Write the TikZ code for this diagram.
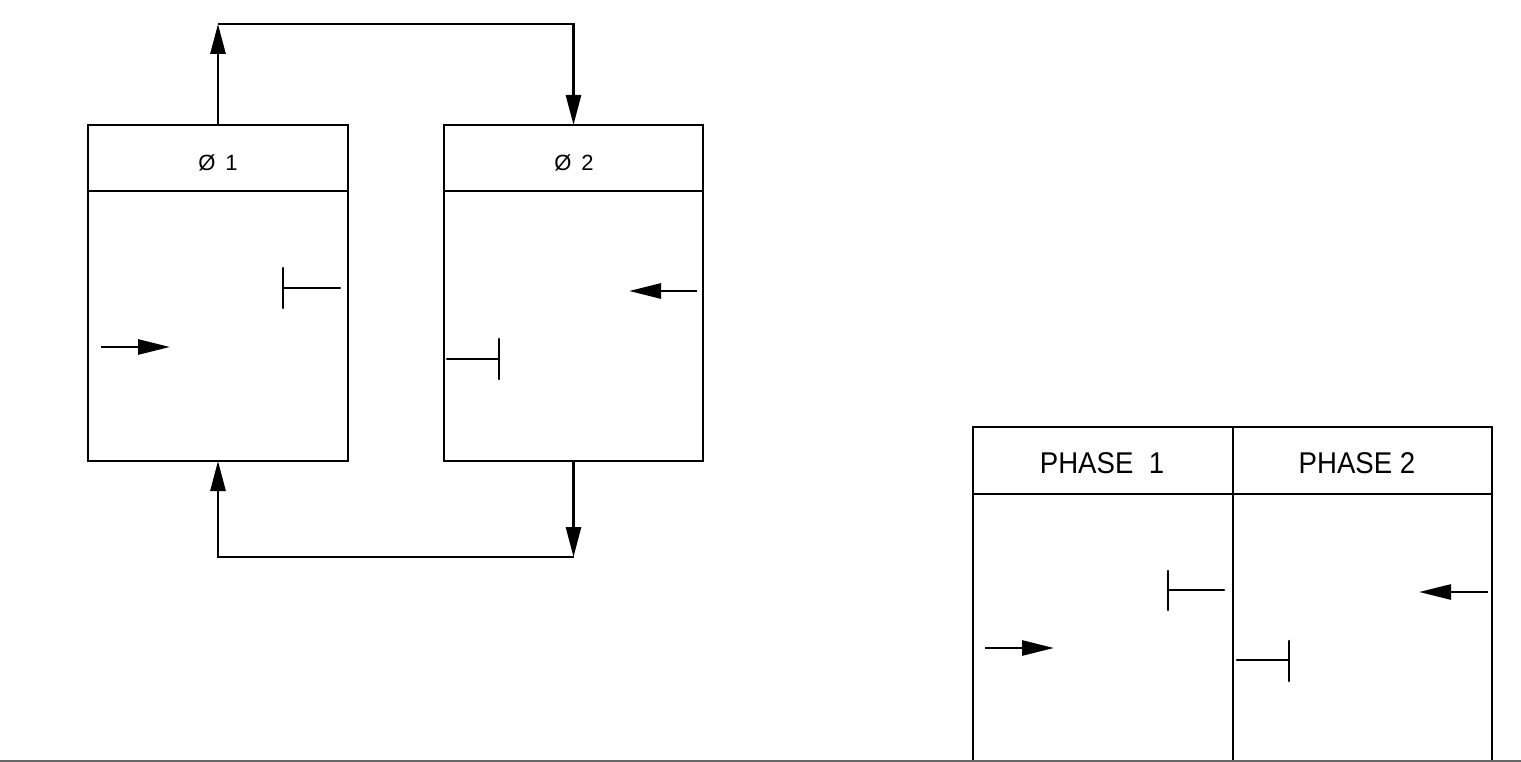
\documentclass[tikz,border=0pt]{standalone}
\usepackage{fontspec}
\setmainfont{Liberation Sans}
\usetikzlibrary{arrows.meta}
\tikzset{
  boxline/.style={draw=black, line width=2.8pt, inner sep=0pt, outer sep=0pt},
  conn/.style={line width=2.8pt, -{Triangle[length=30pt,width=15pt]}},
  sym/.style={line width=2.6pt, line cap=round},
  symarr/.style={line width=2.6pt, -{Triangle[length=32pt,width=15pt]}},
  lbl/.style={font=\fontsize{22}{24}\selectfont},
  phase/.style={font=\fontsize{30}{32}\selectfont, xscale=0.92}
}
\begin{document}
\begin{tikzpicture}[x=1pt,y=-1pt]
\useasboundingbox (0,0) rectangle (1521,762);
\fill[white] (0,0) rectangle (1521,762);
% left diagram
\node[boxline, minimum width=260pt, minimum height=66pt] (h1) at (218,158) {};
\node[boxline, minimum width=260pt, minimum height=270pt] (p1) at (218,326) {};
\node[boxline, minimum width=259pt, minimum height=66pt] (h2) at (573.5,158) {};
\node[boxline, minimum width=259pt, minimum height=270pt] (p2) at (573.5,326) {};
\node[lbl] (t1) at (218,163) {Ø\hspace{0.45em}1};
\node[lbl] (t2) at (574,163) {Ø\hspace{0.45em}2};
\coordinate (c1) at (h1.north |- 0,24);
\coordinate (c2) at (p2.south |- 0,557);
\draw[conn] (h1.north) -- (c1);
\draw[conn] (c1) -| (h2.north);
\draw[conn] (p2.south) -- (c2);
\draw[conn] (c2) -| (p1.south);
% symbols in box 1
\draw[sym] (283,268) -- (283,308);
\draw[sym] (283,288) -- (340,288);
\draw[symarr] (101,347) -- (170,347);
% symbols in box 2
\draw[symarr] (697,291) -- (629,291);
\draw[sym] (447,359) -- (499,359);
\draw[sym] (499,339) -- (499,379);
% table
\begin{scope}
\clip (0,0) rectangle (1521,762);
\node[boxline, minimum width=260pt, minimum height=67pt] (ph1) at (973+130,460.5) {};
\node[boxline, minimum width=259pt, minimum height=67pt] (ph2) at (1233+129.5,460.5) {};
\node[boxline, minimum width=260pt, minimum height=290pt] (pb1) at (973+130,494+145) {};
\node[boxline, minimum width=259pt, minimum height=290pt] (pb2) at (1233+129.5,494+145) {};
\end{scope}
\node[phase] (pt1) at (1102,463) {PHASE~~1};
\node[phase] (pt2) at (1357,463) {PHASE 2};
% symbols in table col 1
\draw[sym] (1168,571) -- (1168,610);
\draw[sym] (1168,590) -- (1224,590);
\draw[symarr] (985,648) -- (1054,648);
% symbols in table col 2
\draw[symarr] (1488,592) -- (1419,592);
\draw[sym] (1237,660) -- (1289,660);
\draw[sym] (1289,641) -- (1289,681);
% bottom grey edge
\draw[line width=1.5pt, black!60] (0,761.2) -- (1521,761.2);
\end{tikzpicture}
\end{document}
